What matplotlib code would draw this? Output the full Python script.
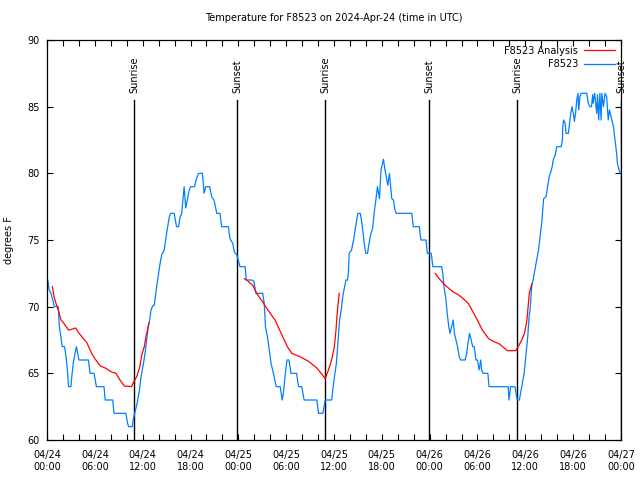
import matplotlib
matplotlib.use('Agg')
from matplotlib import pyplot as plt
import numpy as np

# hours since 2024-04-24 00:00 UTC
obs_hours = [0.1, 0.25, 0.5, 0.8, 0.9, 1.4, 1.55, 1.75, 1.9, 2.2, 2.4, 2.55, 2.7, 3.0, 3.1, 3.3, 3.6, 3.7, 4.0, 5.2,
             5.4, 5.9, 6.2, 7.15, 7.3, 8.25, 8.4, 9.9, 10.1, 10.25, 10.7, 10.8, 11.0, 11.3, 11.6, 11.8, 12.1, 12.3, 12.5, 12.7,
             12.85, 13.05, 13.25, 13.45, 13.75, 14.2, 14.4, 14.7, 15.0, 15.35, 15.5, 15.95, 16.25, 16.5, 16.7, 16.9, 16.97, 17.2, 17.4, 17.6,
             17.85, 18.0, 18.5, 18.7, 19.0, 19.5, 19.7, 19.9, 20.4, 20.65, 20.95, 21.3, 21.7, 21.9, 22.75, 22.95, 23.3, 23.5, 23.8, 24.0,
             24.2, 24.85, 25.0, 25.7, 25.95, 26.2, 27.05, 27.25, 27.4, 27.65, 27.85, 28.1, 28.4, 28.75, 29.25, 29.5, 29.65, 29.9, 30.1, 30.35,
             30.6, 31.3, 31.55, 31.95, 32.25, 33.85, 34.05, 34.6, 34.9, 35.7, 36.0, 36.3, 36.55, 36.7, 36.9, 37.1, 37.25, 37.5, 37.7, 37.8,
             37.9, 38.2, 38.45, 38.65, 38.85, 39.0, 39.3, 39.5, 39.7, 39.9, 40.0, 40.2, 40.4, 40.6, 40.85, 41.05, 41.25, 41.45, 41.7, 41.9,
             42.2, 42.4, 42.6, 42.75, 42.95, 43.25, 43.45, 43.65, 43.8, 45.75, 45.95, 46.7, 46.9, 47.55, 47.7, 48.2, 48.4, 49.5, 49.65, 49.8,
             50.05, 50.2, 50.4, 50.55, 50.75, 50.95, 51.1, 51.3, 51.5, 51.7, 51.9, 52.45, 52.65, 52.8, 53.0, 53.2, 53.4, 53.6, 53.8, 54.0,
             54.2, 54.4, 54.5, 54.7, 55.3, 55.45, 57.85, 57.95, 58.15, 58.7, 58.9, 59.0, 59.25, 59.55, 59.85, 60.1, 60.3, 60.5, 60.6, 60.8,
             61.0, 61.2, 61.45, 61.65, 61.85, 62.05, 62.15, 62.3, 62.6, 62.7, 62.85, 63.05, 63.2, 63.4, 63.5, 63.75, 63.95, 64.5, 64.65, 64.7,
             64.8, 65.0, 65.1, 65.4, 65.55, 65.7, 65.85, 66.05, 66.15, 66.3, 66.45, 66.6, 66.7, 66.85, 67.0, 67.7, 67.9, 68.1, 68.3, 68.45,
             68.5, 68.7, 68.95, 69.05, 69.2, 69.35, 69.5, 69.6, 69.8, 70.0, 70.2, 70.4, 70.55, 70.75, 71.05, 71.25, 71.45, 71.55, 71.75, 71.9]
obs_temps = [72, 71.3, 71, 70.3, 70, 70, 68.5, 67.7, 67, 67, 66.2, 65.3, 64, 64, 64.7, 65.8, 66.75, 67, 66, 66,
             65, 65, 64, 64, 63, 63, 62, 62, 61.25, 61, 61, 61.5, 62, 62.75, 63.75, 64.75, 65.75, 66.5, 67.5, 68.5,
             68.9, 69.75, 70.05, 70.1, 71.5, 73.3, 73.9, 74.25, 75.5, 76.75, 77, 77, 76, 76, 76.75, 77, 77.5, 79, 77.4, 78,
             78.75, 79, 79, 79.5, 80, 80, 78.5, 79, 79, 78.25, 78, 77, 77, 76, 76, 75.1, 74.75, 74.1, 73.9, 73.5,
             73, 73, 72, 72, 71.9, 71, 71, 70.25, 68.5, 67.75, 66.9, 65.75, 65, 64, 64, 63, 63.5, 65, 66, 66,
             65, 65, 64, 64, 63, 63, 62, 62, 63, 63, 64.5, 65.75, 67.75, 69.0, 69.75, 70.75, 71.25, 72, 72, 72.5,
             74, 74.25, 75, 75.75, 76.5, 77, 77, 76.25, 75.25, 74.25, 74, 74, 74.75, 75.4, 75.9, 77.1, 78, 79, 78.1, 80.25,
             81.05, 80.25, 79.6, 79.1, 80, 78.1, 78, 77.25, 77, 77, 76, 76, 75, 75, 74, 74, 73, 73, 72.5, 71.5,
             70.5, 69.5, 68.5, 68, 68.5, 69, 68, 67.5, 67, 66.25, 66, 66, 66.5, 67.25, 68, 67.5, 67, 67, 66, 66,
             65.25, 66, 65.25, 65, 65, 64, 64, 63, 64, 64, 63.25, 63, 63, 64, 65, 66.5, 67.75, 69.45, 69.75, 71.5,
             72.1, 72.75, 73.6, 74.25, 75.25, 76.25, 77, 78.1, 78.25, 78.6, 79.25, 79.9, 80.1, 80.6, 81, 81.4, 82, 82, 82.5, 83.5,
             84, 83.75, 83, 83, 83.75, 84.5, 85, 84.4, 83.9, 84.5, 85.5, 86, 84.75, 85.75, 86, 86, 85.25, 85, 85, 85.9,
             85.25, 86, 84.5, 85.9, 84, 86, 84, 86, 85, 86, 85.75, 84, 84.75, 84.25, 83.5, 82.5, 81.5, 80.75, 80.25, 80]

# analysis curve, nan separates the three overnight segments
ana_hours = [0.67, 0.9, 1.2, 1.5, 1.75, 2.05, 2.7, 3.1, 3.6, 3.9, 4.55, 5.0, 5.6, 6.0, 6.7, 7.3, 8.1, 8.65, 9.15, 9.7,
             10.6, 10.8, 11.25, 11.6, 11.9, 12.2, 12.4, 12.8, 12.9,
             24.75, 25.25, 25.8, 26.3, 27.0, 27.7, 28.6, 29.45, 30.15, 30.7, 31.75, 32.8, 33.85, 34.9, 35.3, 35.7, 36.05, 36.25, 36.4, 36.65, 36.7,
             48.7, 49.2, 49.7, 50.35, 50.95, 51.6, 52.2, 52.85, 53.3, 53.9, 54.6, 55.4, 56.0, 56.75, 57.75, 58.8, 59.1, 59.55, 59.9, 60.2,
             60.5, 60.8]
ana_temps = [71.5, 70.7, 70.1, 69.6, 69, 68.8, 68.25, 68.3, 68.4, 68.1, 67.6, 67.3, 66.5, 66.1, 65.55, 65.4, 65.1, 65, 64.5, 64.05,
             64, 64.25, 64.75, 65.4, 66.4, 67, 67.7, 68.8, np.nan,
             72.1, 71.9, 71.6, 71, 70.4, 69.75, 69, 67.9, 67, 66.5, 66.25, 65.9, 65.4, 64.6, 65.25, 66, 67, 68.25, 69.5, 71, np.nan,
             72.5, 72.1, 71.75, 71.4, 71.1, 70.9, 70.6, 70.25, 69.75, 69.1, 68.25, 67.6, 67.4, 67.2, 66.7, 66.7, 67, 67.5, 68, 69,
             71, 71.7]

sun_hours = [10.92, 23.84, 34.88, 47.93, 58.97, 72.0]
sun_labels = ['Sunrise', 'Sunset', 'Sunrise', 'Sunset', 'Sunrise', 'Sunset']

tick_hours = list(range(0, 73, 6))
tick_labels = ['04/24\n00:00', '04/24\n06:00', '04/24\n12:00', '04/24\n18:00',
               '04/25\n00:00', '04/25\n06:00', '04/25\n12:00', '04/25\n18:00',
               '04/26\n00:00', '04/26\n06:00', '04/26\n12:00', '04/26\n18:00',
               '04/27\n00:00']

plt.rcParams['font.family'] = ['DejaVu Sans']
fs = 7

fig = plt.figure(figsize=(6.4, 4.8), dpi=100)
ax = fig.add_axes([47 / 640, 40 / 480, 574 / 640, 400 / 480])

for h, lbl in zip(sun_hours, sun_labels):
    ax.plot([h, h], [60, 85.5], color='black', lw=1.0, zorder=1)
    ax.text(h, 86.0, lbl, rotation=90, ha='center', va='bottom', fontsize=fs)

ax.plot(ana_hours, ana_temps, color='#ff0000', lw=0.9, label='F8523 Analysis', zorder=3)
ax.plot(obs_hours, obs_temps, color='#0080ff', lw=0.9, label='F8523', zorder=2)

ax.set_xlim(0, 72)
ax.set_ylim(60, 90)
ax.set_xticks(tick_hours)
ax.set_xticklabels(tick_labels, fontsize=fs, linespacing=1.3)
ax.set_xticks(list(range(0, 73, 2)), minor=True)
ax.set_yticks(range(60, 91, 5))
ax.set_yticklabels([str(v) for v in range(60, 91, 5)], fontsize=fs)
ax.tick_params(which='both', direction='in', length=4, width=0.8, top=True, right=True, pad=5)
ax.tick_params(axis='x', which='major', pad=7)
for sp in ax.spines.values():
    sp.set_linewidth(0.9)

ax.set_ylabel('degrees F', fontsize=fs, labelpad=10)
ax.set_title('Temperature for F8523 on 2024-Apr-24 (time in UTC)', fontsize=fs, pad=14)

leg = ax.legend(loc='upper right', frameon=False, fontsize=fs, markerfirst=False,
                handlelength=3.2, borderaxespad=0.2, labelspacing=0.35, handletextpad=0.6)

plt.savefig('out.png', dpi=100)
